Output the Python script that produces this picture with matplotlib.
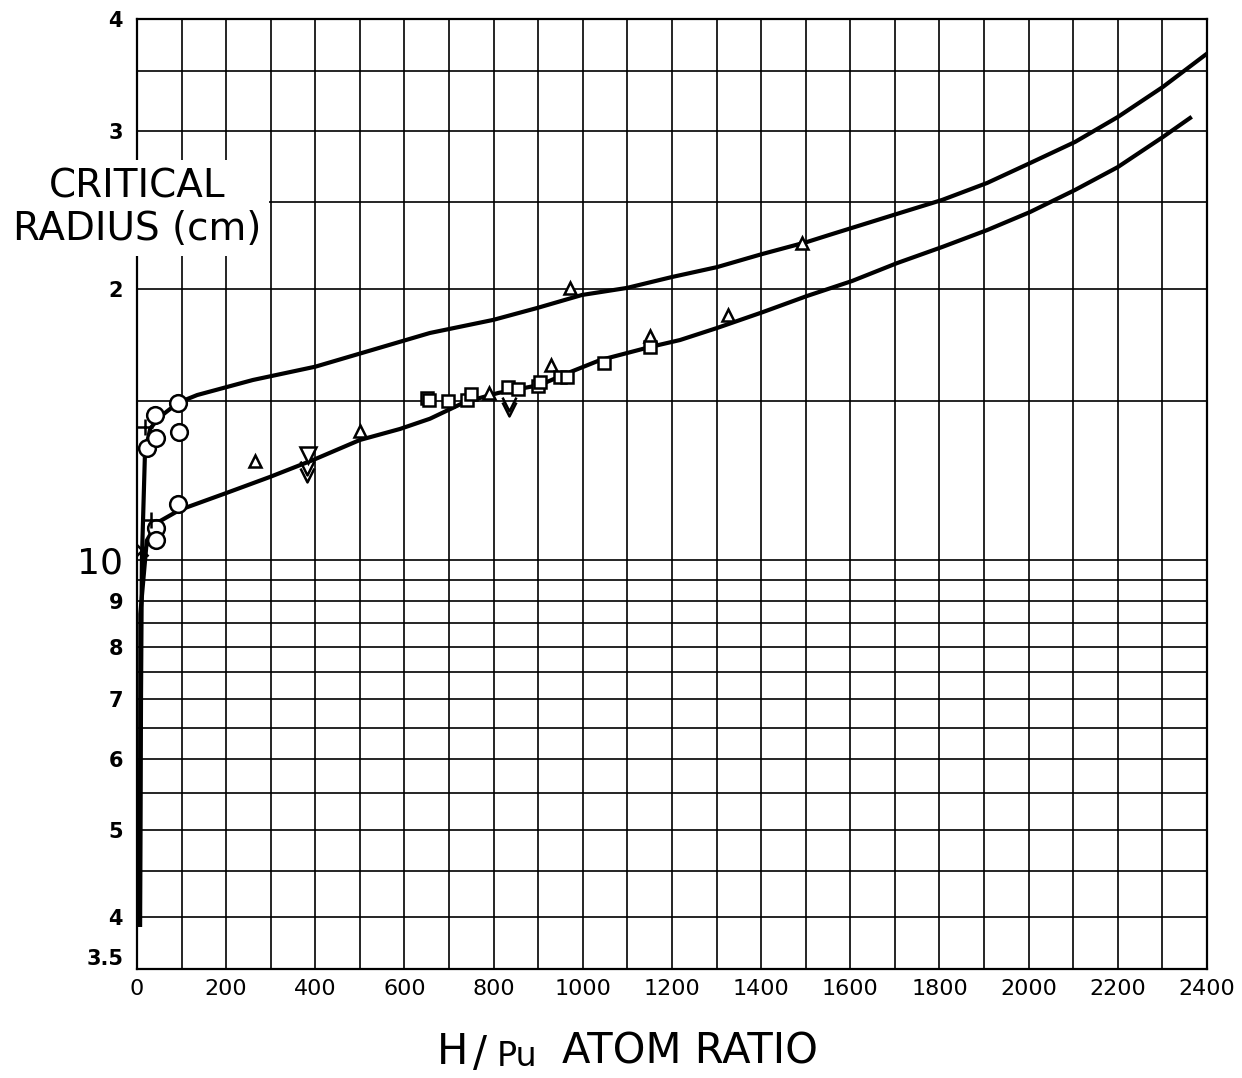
import matplotlib.pyplot as plt
from matplotlib.ticker import FixedLocator, NullFormatter

# upper curve
up_x = [7, 9, 11, 18, 30, 50, 92, 135, 260, 400, 657, 799, 897, 998, 1099, 1200,
        1301, 1402, 1503, 1554, 1711, 1806, 1907, 2003, 2104, 2200, 2301, 2400]
up_y = [3.92, 7.0, 10.0, 13.2, 14.0, 14.4, 14.95, 15.25, 15.85, 16.4, 17.88, 18.49,
        19.06, 19.71, 20.07, 20.64, 21.17, 21.89, 22.58, 23.0, 24.32, 25.15, 26.27,
        27.64, 29.18, 31.11, 33.6, 36.6]

# lower curve
lo_x = [6.5, 7.5, 22, 45, 96, 202, 298, 395, 500, 590, 657, 736, 810, 904, 967, 1039,
        1151, 1218, 1301, 1402, 1503, 1604, 1705, 1806, 1907, 2003, 2104, 2200, 2301, 2362]
lo_y = [3.92, 8.7, 10.5, 10.99, 11.36, 11.87, 12.36, 12.91, 13.59, 13.98, 14.35, 14.98,
        15.33, 15.65, 16.14, 16.68, 17.25, 17.56, 18.11, 18.85, 19.66, 20.43, 21.39,
        22.29, 23.28, 24.38, 25.8, 27.36, 29.55, 31.03]

# experimental points
circ_x = [22, 40, 43, 92, 94, 92, 43, 43]
circ_y = [13.3, 14.5, 13.66, 14.94, 13.87, 11.53, 10.85, 10.52]
plus_x = [18, 31]
plus_y = [14.05, 11.07]
cross_x = [11]
cross_y = [10.25]
tri_x = [265, 500, 790, 929, 971, 1151, 1326, 1492]
tri_y = [12.88, 13.91, 15.33, 16.45, 20.07, 17.74, 18.73, 22.52]
dtri_x = [384]
dtri_y = [13.08]
vee_x = [381, 381, 834, 834]
vee_y = [12.65, 12.43, 14.9, 14.72]
sq_x = [650, 655, 698, 740, 749, 832, 855, 900, 904, 949, 964, 1048, 1151]
sq_y = [15.13, 15.05, 15.02, 15.06, 15.28, 15.56, 15.48, 15.61, 15.77, 15.97, 15.97,
        16.56, 17.25]

xticks = list(range(0, 2401, 200))
xminor = list(range(100, 2400, 200))
yticks = [3.5, 4, 5, 6, 7, 8, 9, 10, 20, 30, 40]
ylabels = ['3.5', '4', '5', '6', '7', '8', '9', '10', '2', '3', '4']
yminor = [4.5, 5.5, 6.5, 7.5, 8.5, 9.5, 15, 25, 35]

fig = plt.figure(figsize=(12.42, 10.78), dpi=100)
ax = fig.add_axes([0.1103, 0.1011, 0.8615, 0.8813])
ax.set_yscale('log')
ax.set_xlim(0, 2400)
ax.set_ylim(3.5, 40)

ax.xaxis.set_major_locator(FixedLocator(xticks))
ax.xaxis.set_minor_locator(FixedLocator(xminor))
ax.yaxis.set_major_locator(FixedLocator(yticks))
ax.yaxis.set_minor_locator(FixedLocator(yminor))
ax.yaxis.set_minor_formatter(NullFormatter())
ax.set_xticklabels([str(v) for v in xticks], fontsize=16)
ax.set_yticklabels(ylabels, fontsize=15, fontweight='bold')
ax.tick_params(which='both', length=0)
ax.tick_params(axis='x', pad=7)
ax.tick_params(axis='y', pad=10)
for lab in ax.get_yticklabels():
    if lab.get_text() == '10':
        lab.set_fontsize(26)
        lab.set_fontweight('normal')
    if lab.get_text() == '3.5':
        lab.set_va('bottom')

ax.grid(which='both', color='black', lw=1.2)
ax.set_axisbelow(True)
for s in ax.spines.values():
    s.set_linewidth(1.6)

ax.plot(up_x, up_y, color='black', lw=3, zorder=3)
ax.plot(lo_x, lo_y, color='black', lw=3, zorder=3)

mk = dict(ls='none', color='black', mfc='white', mew=1.8, zorder=5)
ax.plot(circ_x, circ_y, marker='o', ms=12, **mk)
ax.plot(plus_x, plus_y, marker='+', ms=11, **mk)
ax.plot(cross_x, cross_y, marker='x', ms=9, **mk)
ax.plot(tri_x, tri_y, marker='^', ms=8, **mk)
ax.plot(dtri_x, dtri_y, marker='v', ms=12, **mk)
ax.plot(vee_x, vee_y, marker=[(-1, 1), (0, -1), (1, 1)], ms=10, ls='none',
        color='black', mfc='none', mew=1.8, zorder=5)
ax.plot(sq_x, sq_y, marker='s', ms=9, **mk)

fig.text(137 / 1242, 1 - 208 / 1078, 'CRITICAL\nRADIUS (cm)', ha='center', va='center',
         multialignment='center', fontsize=28, linespacing=1.15,
         bbox=dict(facecolor='white', edgecolor='none', pad=6), zorder=10)

fig.text(437 / 1242, 1 - 1064 / 1078, 'H', fontsize=30, ha='left', va='baseline')
fig.text(480 / 1242, 1 - 1054 / 1078, '/', fontsize=30, ha='center', va='center')
fig.text(497 / 1242, 1 - 1066 / 1078, 'Pu', fontsize=24, ha='left', va='baseline')
fig.text(562 / 1242, 1 - 1064 / 1078, 'ATOM RATIO', fontsize=30, ha='left', va='baseline')

fig.savefig('out.png', dpi=100)
